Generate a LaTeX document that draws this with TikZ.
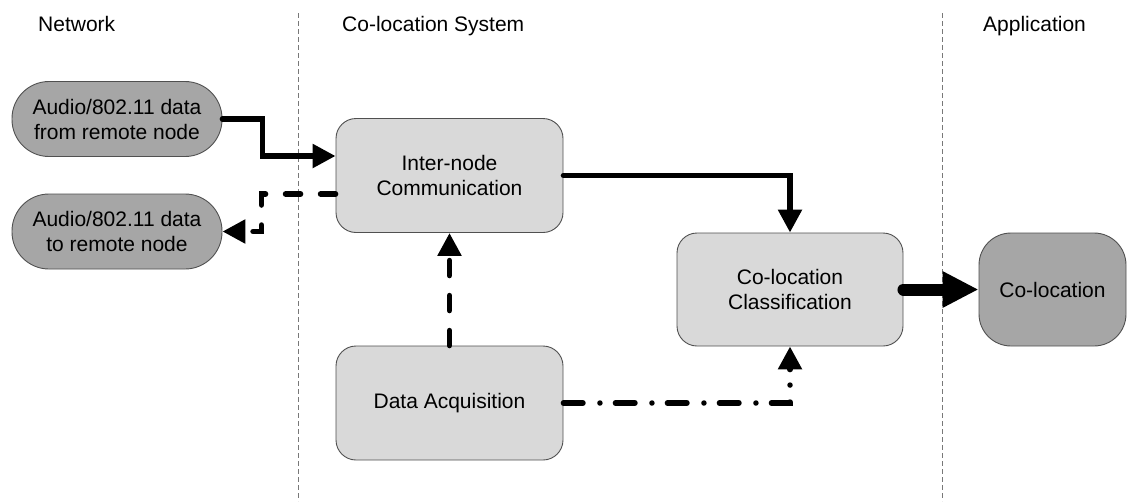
\documentclass[tikz,border=0pt]{standalone}
\usepackage{fontspec}
\setmainfont{Liberation Sans}
\usetikzlibrary{arrows.meta}
\definecolor{pillgray}{RGB}{166,166,166}
\definecolor{boxgray}{RGB}{217,217,217}
\definecolor{edgegray}{RGB}{80,80,80}
\definecolor{divgray}{RGB}{120,120,120}
\begin{document}
\begin{tikzpicture}[x=1pt,y=-1pt,
  txt/.style={font=\fontsize{21}{25}\selectfont},
  header/.style={txt, anchor=base west, inner sep=0pt},
  pill/.style={txt, draw=edgegray, fill=pillgray, line width=0.9pt,
    rounded corners=37pt, minimum width=210pt, minimum height=75pt,
    align=center, inner sep=0pt},
  block/.style={txt, draw=edgegray, fill=boxgray, line width=0.9pt,
    rounded corners=20pt, minimum width=227pt, minimum height=114pt,
    align=center, inner sep=0pt},
  outbox/.style={txt, draw=edgegray, fill=pillgray, line width=0.9pt,
    rounded corners=32pt, minimum width=147pt, minimum height=113pt,
    align=center, inner sep=0pt},
  divider/.style={draw=divgray, line width=0.8pt, dash pattern=on 5pt off 3pt},
  flow/.style={line width=5.5pt, line cap=round, line join=miter,
    -{Triangle[length=23pt,width=23pt]}},
  dashflow/.style={flow, dash pattern=on 15pt off 20pt},
  dotflow/.style={flow, dash pattern=on 19.5pt off 17pt on 0pt off 15.5pt},
  bigflow/.style={line width=12pt, line cap=round,
    -{Triangle[length=36pt,width=34pt]}}
]
\useasboundingbox (0,0) rectangle (1127,501);

% column dividers
\draw[divider] (298,13) -- (298,501);
\draw[divider] (942,13) -- (942,501);

% column headers
\node[header] (hnet) at (38,31) {Network};
\node[header] (hsys) at (342,31) {Co-location System};
\node[header] (happ) at (983,31) {Application};

% nodes
\node[pill] (from) at (117,119) {Audio/802.11 data\\from remote node};
\node[pill] (to) at (117,231.5) {Audio/802.11 data\\to remote node};
\node[block] (inter) at (449.5,175.5) {Inter-node\\Communication};
\node[block] (acq) at (449.5,403) {Data Acquisition};
\node[block, minimum width=226pt, minimum height=113pt] (class) at (790,289.5) {Co-location\\Classification};
\node[outbox] (coloc) at (1052.5,289.5) {Co-location};

% connectors
\draw[flow] (from.east) -- ++(40,0) |- ([yshift=19.5pt]inter.west);
\draw[dashflow] ([yshift=-18.5pt]inter.west) -- ++(-74,0) |- (to.east);
\draw[flow] (inter.east) -| (class.north);
\draw[dashflow] (acq.north) -- (inter.south);
\draw[dotflow] (acq.east) -| (class.south);
\draw[bigflow] (class.east) -- (coloc.west);
\end{tikzpicture}
\end{document}
